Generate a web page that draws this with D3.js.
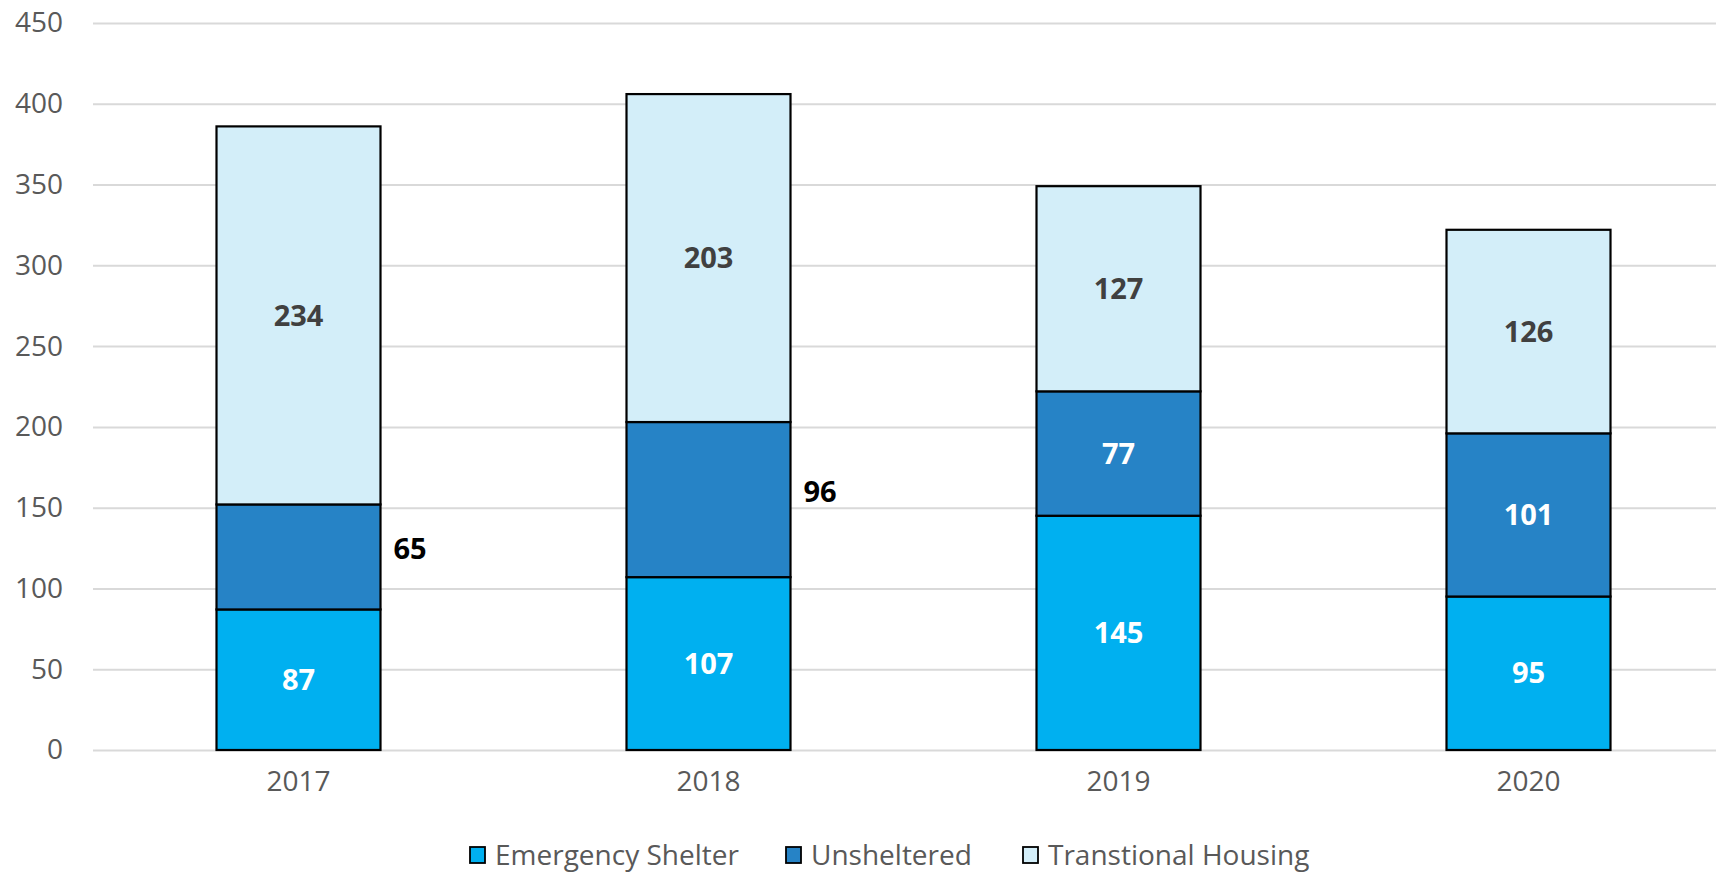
<!DOCTYPE html>
<html>
<head>
<meta charset="utf-8">
<script src="https://cdn.jsdelivr.net/npm/d3@7"></script>
<style>
  body { margin: 0; background: #fff; }
  svg { display: block; font-family: "Open Sans", sans-serif; }
</style>
</head>
<body>
<svg id="chart" width="1716" height="872"></svg>
<script>
// chart data
const years = ["2017", "2018", "2019", "2020"];
const seriesNames = ["Emergency Shelter", "Unsheltered", "Transtional Housing"];
const emergencyShelter = [87, 107, 145, 95];
const unsheltered = [65, 96, 77, 101];
const transitionalHousing = [234, 203, 127, 126];
const yTicks = [0, 50, 100, 150, 200, 250, 300, 350, 400, 450];

const colors = ["#00B0F0", "#2683C6", "#D3EEF9"];
const labelColors = ["#ffffff", "#ffffff", "#404040"];
// the two small unsheltered segments get their label outside the bar
const outside = { "2017": true, "2018": true };

const rows = years.map((yr, i) => ({
    year: yr,
    "Emergency Shelter": emergencyShelter[i],
    "Unsheltered": unsheltered[i],
    "Transtional Housing": transitionalHousing[i]
}));

const stacked = d3.stack().keys(seriesNames)(rows);

const svg = d3.select("#chart");

const x = d3.scaleBand()
    .domain(years)
    .range([93.5, 1733.5])
    .paddingInner(0.6)
    .paddingOuter(0.3);

const y = d3.scaleLinear()
    .domain([0, 450])
    .range([750, 23]);

// gridlines + y labels
const yAxis = svg.append("g")
    .attr("transform", "translate(93,0)")
    .call(d3.axisLeft(y).tickValues(yTicks).tickSize(-1640).tickPadding(30));
yAxis.select(".domain").remove();
yAxis.selectAll(".tick line").attr("stroke", "#D9D9D9").attr("stroke-width", 2);
yAxis.selectAll(".tick text")
    .attr("fill", "#595959")
    .style("font-size", "28px")
    .style("font-family", "Open Sans");

// x labels
const xAxis = svg.append("g")
    .attr("transform", "translate(0,750)")
    .call(d3.axisBottom(x).tickSize(0).tickPadding(21));
xAxis.select(".domain").remove();
xAxis.selectAll(".tick text")
    .attr("fill", "#595959")
    .style("font-size", "28px")
    .style("font-family", "Open Sans");

// bars
const layers = svg.append("g").selectAll("g.layer")
    .data(stacked)
    .enter()
    .append("g")
    .attr("class", "layer")
    .attr("fill", (d, i) => colors[i]);

layers.selectAll("rect")
    .data(d => d)
    .enter()
    .append("rect")
    .attr("x", d => x(d.data.year))
    .attr("y", d => y(d[1]))
    .attr("width", x.bandwidth())
    .attr("height", d => y(d[0]) - y(d[1]))
    .attr("stroke", "#000")
    .attr("stroke-width", 2.2);

// value labels
stacked.forEach((layer, li) => {
    svg.append("g").selectAll("text")
        .data(layer)
        .enter()
        .append("text")
        .attr("x", d => {
            if (li === 1 && outside[d.data.year]) return x(d.data.year) + x.bandwidth() + 13;
            return x(d.data.year) + x.bandwidth() / 2;
        })
        .attr("y", d => {
            const mid = y((d[0] + d[1]) / 2);
            return (li === 1 && outside[d.data.year]) ? mid - 8 : mid;
        })
        .attr("dy", "0.35em")
        .attr("text-anchor", d => (li === 1 && outside[d.data.year]) ? "start" : "middle")
        .attr("fill", d => (li === 1 && outside[d.data.year]) ? "#000" : labelColors[li])
        .style("font-size", "29px")
        .style("font-weight", "bold")
        .text(d => d[1] - d[0]);
});

// legend
const legendX = [470, 786, 1023];
const legend = svg.append("g").selectAll("g")
    .data(seriesNames)
    .enter()
    .append("g")
    .attr("transform", (d, i) => "translate(" + legendX[i] + ",855)");
legend.append("rect")
    .attr("x", 0)
    .attr("y", -8)
    .attr("width", 15)
    .attr("height", 16)
    .attr("fill", (d, i) => colors[i])
    .attr("stroke", "#000")
    .attr("stroke-width", 1.8);
legend.append("text")
    .attr("x", 25)
    .attr("y", 0)
    .attr("dy", "0.35em")
    .attr("fill", "#595959")
    .style("font-size", "28px")
    .text(d => d);
</script>
</body>
</html>
